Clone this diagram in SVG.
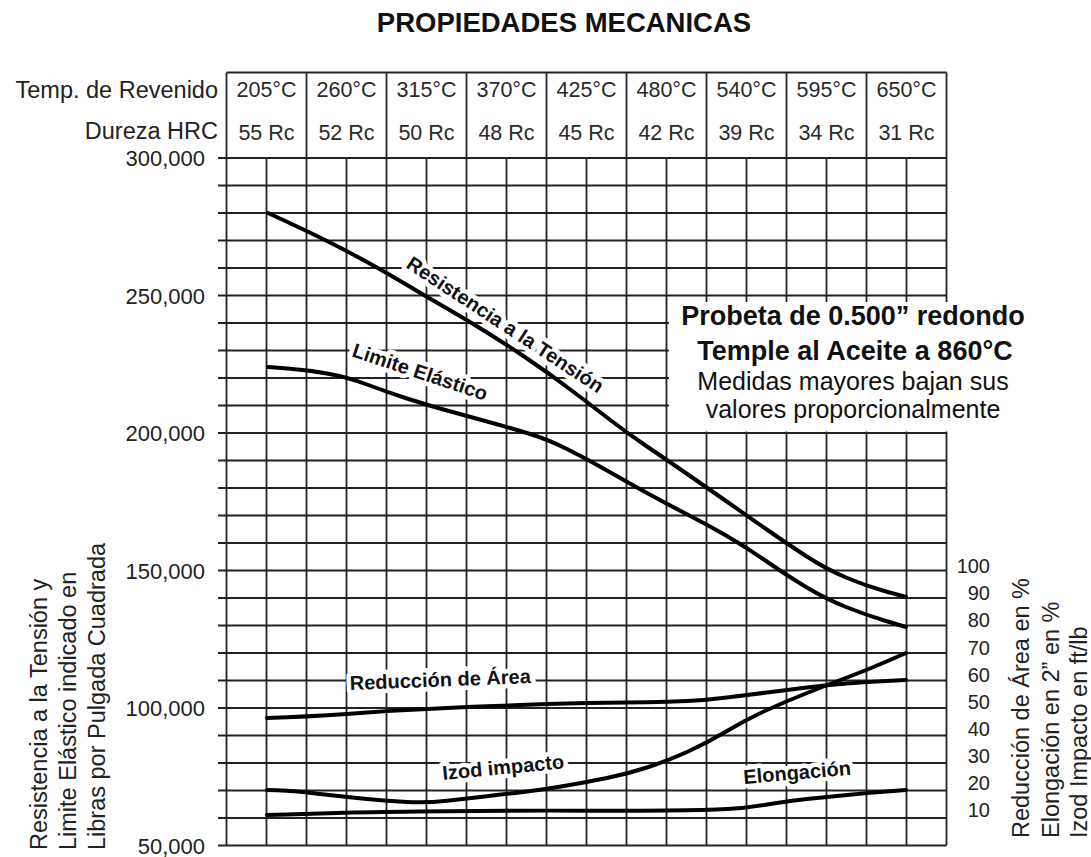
<svg xmlns="http://www.w3.org/2000/svg" width="1091" height="857" viewBox="0 0 1091 857">
<style>
.grid line{stroke:#222;stroke-width:1.8}
.t{font-family:"Liberation Sans",Arial,sans-serif;fill:#222}
.hdr{font-size:21.5px;text-anchor:middle;fill:#2a2a2a}
.ax{font-size:22px;text-anchor:end}
.rax{font-size:20px;text-anchor:end}
.atitle{font-size:23.5px}
.curve{fill:none;stroke:#000;stroke-width:4;stroke-linejoin:round;stroke-linecap:round}
.lbl{font-family:"Liberation Sans",Arial,sans-serif;font-weight:bold;font-size:20px;fill:#111;stroke:#fff;stroke-width:9;paint-order:stroke;stroke-linejoin:round}
.note{font-family:"Liberation Sans",Arial,sans-serif;fill:#111;text-anchor:middle}
</style>
<rect width="1091" height="857" fill="#fff"/>
<text class="t" x="564" y="32" style="font-size:27.5px;font-weight:bold;text-anchor:middle;fill:#111">PROPIEDADES MECANICAS</text>

<g id="header">
<text class="t" x="218" y="97.5" style="font-size:23.5px;text-anchor:end">Temp. de Revenido</text>
<text class="t" x="218" y="139" style="font-size:23.5px;text-anchor:end">Dureza HRC</text>
<g class="grid">
<line x1="226.5" y1="72.5" x2="946.5" y2="72.5"/>
<line x1="226.5" y1="72.5" x2="226.5" y2="158"/>
<line x1="306.5" y1="72.5" x2="306.5" y2="158"/>
<line x1="386.5" y1="72.5" x2="386.5" y2="158"/>
<line x1="466.5" y1="72.5" x2="466.5" y2="158"/>
<line x1="546.5" y1="72.5" x2="546.5" y2="158"/>
<line x1="626.5" y1="72.5" x2="626.5" y2="158"/>
<line x1="706.5" y1="72.5" x2="706.5" y2="158"/>
<line x1="786.5" y1="72.5" x2="786.5" y2="158"/>
<line x1="866.5" y1="72.5" x2="866.5" y2="158"/>
<line x1="946.5" y1="72.5" x2="946.5" y2="158"/>
</g>
<g class="t hdr">
<text x="266.5" y="97">205°C</text><text x="346.5" y="97">260°C</text><text x="426.5" y="97">315°C</text>
<text x="506.5" y="97">370°C</text><text x="586.5" y="97">425°C</text><text x="666.5" y="97">480°C</text>
<text x="746.5" y="97">540°C</text><text x="826.5" y="97">595°C</text><text x="906.5" y="97">650°C</text>
<text x="266.5" y="140">55 Rc</text><text x="346.5" y="140">52 Rc</text><text x="426.5" y="140">50 Rc</text>
<text x="506.5" y="140">48 Rc</text><text x="586.5" y="140">45 Rc</text><text x="666.5" y="140">42 Rc</text>
<text x="746.5" y="140">39 Rc</text><text x="826.5" y="140">34 Rc</text><text x="906.5" y="140">31 Rc</text>
</g>
</g>

<g id="grid" class="grid">
<line x1="218" y1="158" x2="946.5" y2="158"/>
<line x1="218" y1="185.5" x2="946.5" y2="185.5"/>
<line x1="218" y1="213" x2="946.5" y2="213"/>
<line x1="218" y1="240.5" x2="946.5" y2="240.5"/>
<line x1="218" y1="268" x2="946.5" y2="268"/>
<line x1="218" y1="295.5" x2="946.5" y2="295.5"/>
<line x1="218" y1="323" x2="946.5" y2="323"/>
<line x1="218" y1="350.5" x2="946.5" y2="350.5"/>
<line x1="218" y1="378" x2="946.5" y2="378"/>
<line x1="218" y1="405.5" x2="946.5" y2="405.5"/>
<line x1="218" y1="433" x2="946.5" y2="433"/>
<line x1="218" y1="460.5" x2="946.5" y2="460.5"/>
<line x1="218" y1="488" x2="946.5" y2="488"/>
<line x1="218" y1="515.5" x2="946.5" y2="515.5"/>
<line x1="218" y1="543" x2="946.5" y2="543"/>
<line x1="218" y1="570.5" x2="946.5" y2="570.5"/>
<line x1="218" y1="598" x2="946.5" y2="598"/>
<line x1="218" y1="625.5" x2="946.5" y2="625.5"/>
<line x1="218" y1="653" x2="946.5" y2="653"/>
<line x1="218" y1="680.5" x2="946.5" y2="680.5"/>
<line x1="218" y1="708" x2="946.5" y2="708"/>
<line x1="218" y1="735.5" x2="946.5" y2="735.5"/>
<line x1="218" y1="763" x2="946.5" y2="763"/>
<line x1="218" y1="790.5" x2="946.5" y2="790.5"/>
<line x1="218" y1="818" x2="946.5" y2="818"/>
<line x1="218" y1="845.5" x2="946.5" y2="845.5"/>
<line x1="226.5" y1="158" x2="226.5" y2="845.5"/>
<line x1="266.5" y1="158" x2="266.5" y2="845.5"/>
<line x1="306.5" y1="158" x2="306.5" y2="845.5"/>
<line x1="346.5" y1="158" x2="346.5" y2="845.5"/>
<line x1="386.5" y1="158" x2="386.5" y2="845.5"/>
<line x1="426.5" y1="158" x2="426.5" y2="845.5"/>
<line x1="466.5" y1="158" x2="466.5" y2="845.5"/>
<line x1="506.5" y1="158" x2="506.5" y2="845.5"/>
<line x1="546.5" y1="158" x2="546.5" y2="845.5"/>
<line x1="586.5" y1="158" x2="586.5" y2="845.5"/>
<line x1="626.5" y1="158" x2="626.5" y2="845.5"/>
<line x1="666.5" y1="158" x2="666.5" y2="845.5"/>
<line x1="706.5" y1="158" x2="706.5" y2="845.5"/>
<line x1="746.5" y1="158" x2="746.5" y2="845.5"/>
<line x1="786.5" y1="158" x2="786.5" y2="845.5"/>
<line x1="826.5" y1="158" x2="826.5" y2="845.5"/>
<line x1="866.5" y1="158" x2="866.5" y2="845.5"/>
<line x1="906.5" y1="158" x2="906.5" y2="845.5"/>
<line x1="946.5" y1="158" x2="946.5" y2="845.5"/>
</g>

<g id="left-axis" class="t ax">
<text x="205" y="166">300,000</text>
<text x="205" y="303.5">250,000</text>
<text x="205" y="441">200,000</text>
<text x="205" y="578.5">150,000</text>
<text x="205" y="716">100,000</text>
<text x="205" y="853.5">50,000</text>
</g>
<g id="left-title" class="t atitle">
<text transform="translate(46.5,850) rotate(-90)">Resistencia a la Tensión y</text>
<text transform="translate(75.5,850) rotate(-90)">Limite Elástico indicado en</text>
<text transform="translate(104.5,850) rotate(-90)">Libras por Pulgada Cuadrada</text>
</g>

<g id="right-axis" class="t rax">
<text x="990" y="573">100</text>
<text x="990" y="600">90</text>
<text x="990" y="627">80</text>
<text x="990" y="654.5">70</text>
<text x="990" y="681.5">60</text>
<text x="990" y="708.5">50</text>
<text x="990" y="735.5">40</text>
<text x="990" y="763">30</text>
<text x="990" y="790">20</text>
<text x="990" y="817">10</text>
</g>
<g id="right-title" class="t atitle">
<text transform="translate(1029,838) rotate(-90)">Reducción de Área en %</text>
<text transform="translate(1058.5,838) rotate(-90)">Elongación en 2” en %</text>
<text transform="translate(1087,838) rotate(-90)">Izod Impacto en ft/lb</text>
</g>

<g id="note">
<rect x="669" y="302" width="380" height="129.5" fill="#fff"/>
<text class="note" x="853" y="325" style="font-size:27px;font-weight:bold">Probeta de 0.500” redondo</text>
<text class="note" x="855" y="360" style="font-size:27px;font-weight:bold">Temple al Aceite a 860°C</text>
<text class="note" x="853" y="390" style="font-size:25px">Medidas mayores bajan sus</text>
<text class="note" x="853" y="418" style="font-size:25px">valores proporcionalmente</text>
</g>

<g id="connectors">
<path id="resistencia" class="curve" d="M268,213 L287.5,222 Q307,231 327,241 Q347,251 367,262 Q387,273 407,285 Q427,297 447,308.5 Q467,320 487,332.5 Q507,345 527,358.5 Q547,372 567,387 Q587,402 607,417.5 Q627,433 647,446.5 Q667,460 686.5,473.5 Q706,487 726,501 Q746,515 766,529 Q786,543 806,556 Q826,569 846,577.5 Q866,586 886,591.5 L906,597"/>
<path id="limite" class="curve" d="M268,367 L287.5,368.5 Q307,370 327,373.5 Q347,377 367,384.5 Q387,392 407,398.5 Q427,405 447,410.5 Q467,416 487,421.5 Q507,427 527,433 Q547,439 567,449 Q587,459 607,470.5 Q627,482 647,493 Q667,504 686.5,514 Q706,524 726,535.5 Q746,547 766,561 Q786,575 806,587 Q826,599 846,607 Q866,615 886,621 L906,627"/>
<path id="reduccion" class="curve" d="M267,718 L287,717.25 Q307,716.5 327,715.25 Q347,714 367,712.5 Q387,711 407,710 Q427,709 447,708 Q467,707 487,706.25 Q507,705.5 527,704.75 Q547,704 567,703.5 Q587,703 607,702.75 Q627,702.5 647,702.25 Q667,702 687,701 Q707,700 727,697.5 Q747,695 767,692.5 Q787,690 807,687.5 Q827,685 847,683.5 Q867,682 886.5,681 L906,680"/>
<path id="izod" class="curve" d="M267,790 L277,790.25 Q287,790.5 297,791.5 Q307,792.5 327,794.75 Q347,797 367,799 Q387,801 407,802 Q427,803 447,800.75 Q467,798.5 487,796.25 Q507,794 527,791.5 Q547,789 567,785.5 Q587,782 607,778 Q627,774 647,767.5 Q667,761 687,752 Q707,743 727,731 Q747,719 767,710 Q787,701 807,693 Q827,685 847,677.5 Q867,670 886.5,661.5 L906,653"/>
<path id="elongacion" class="curve" d="M267,815 L287,814.5 Q307,814 337,813 Q367,812 417,811.5 Q467,811 507,810.75 Q547,810.5 587,810.75 Q627,811 667,810.5 Q707,810 727,809 Q747,808 767,804.5 Q787,801 807,799 Q827,797 847,795 Q867,793 886.5,791.5 L906,790"/>
</g>

<g id="labels">
<text class="lbl" transform="translate(405,267) rotate(33.3)">Resistencia a la Tensión</text>
<text class="lbl" transform="translate(351,356) rotate(18.5)">Limite Elástico</text>
<text class="lbl" transform="translate(350,690) rotate(-2.2)">Reducción de Área</text>
<text class="lbl" transform="translate(443,780) rotate(-5.5)">Izod impacto</text>
<text class="lbl" transform="translate(744,784) rotate(-5)">Elongación</text>
</g>
</svg>
